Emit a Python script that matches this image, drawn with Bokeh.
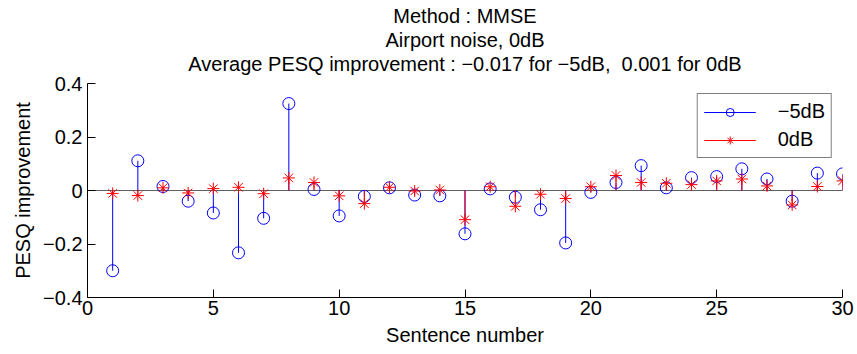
from bokeh.plotting import figure
from bokeh.models import (Range1d, FixedTicker, Span, Legend, LegendItem, Title,
                          ColumnDataSource)
from bokeh.embed import file_html
from bokeh.resources import INLINE

# ---- data ----
sentences = list(range(1, 31))
pesq_m5db = [-0.300, 0.111, 0.015, -0.040, -0.084, -0.233, -0.104, 0.325, 0.004, -0.095,
             -0.022, 0.010, -0.017, -0.020, -0.162, 0.006, -0.025, -0.072, -0.196, -0.007,
             0.030, 0.093, 0.010, 0.048, 0.052, 0.081, 0.043, -0.040, 0.065, 0.062]
pesq_0db = [-0.011, -0.019, 0.010, -0.009, 0.007, 0.012, -0.012, 0.047, 0.030, -0.020,
            -0.049, 0.012, -0.002, 0.002, -0.109, 0.014, -0.059, -0.014, -0.030, 0.014,
            0.056, 0.030, 0.027, 0.022, 0.036, 0.043, 0.017, -0.054, 0.015, 0.036]
series_labels = ["\u22125dB", "0dB"]
x_ticks = [0, 5, 10, 15, 20, 25, 30]
y_ticks = [-0.4, -0.2, 0, 0.2, 0.4]
y_tick_labels = ["\u22120.4", "\u22120.2", "0", "0.2", "0.4"]
title_lines = ["Method : MMSE",
               "Airport noise, 0dB",
               "Average PESQ improvement : \u22120.017 for \u22125dB,\u00a0 0.001 for 0dB"]

FONT = "Liberation Sans"
FS = "20px"
BLUE = "#0000ff"
RED = "#ff0000"

src = ColumnDataSource(dict(x=sentences, m5=pesq_m5db, z0=pesq_0db))

p = figure(width=857, height=354, output_backend="svg", toolbar_location=None,
           x_range=Range1d(0, 30), y_range=Range1d(-0.4, 0.4), title=None,
           min_border_left=87, min_border_right=15, min_border_top=83,
           min_border_bottom=57)
p.outline_line_color = None
p.grid.visible = False
p.background_fill_color = "white"
p.border_fill_color = "white"

# spacer between plot frame and the title block
p.add_layout(Title(text="\u00a0", text_font=FONT, text_font_size="7px",
                   text_line_height=1.0, standoff=0), "above")
# titles (added bottom-most first)
for t in reversed(title_lines):
    p.add_layout(Title(text=t, align="center", text_font=FONT, text_font_size=FS,
                       text_font_style="normal", text_color="black",
                       text_line_height=1.0, standoff=0, offset=0), "above")

baseline = Span(location=0, dimension="width", line_color="#606060", line_width=1,
                level="underlay")
p.add_layout(baseline)

s1 = p.segment(x0="x", y0=0, x1="x", y1="m5", source=src, line_color=BLUE, line_width=1)
c1 = p.scatter("x", "m5", source=src, marker="circle", size=12, fill_color=None,
               line_color=BLUE, line_width=1)
s2 = p.segment(x0="x", y0=0, x1="x", y1="z0", source=src, line_color=RED, line_width=1)
c2 = p.scatter("x", "z0", source=src, marker="asterisk", size=12,
               line_color=RED, line_width=1)

for ax in (p.xaxis[0], p.yaxis[0]):
    ax.major_tick_in = 8
    ax.major_tick_out = 0
    ax.minor_tick_line_color = None
    ax.axis_line_color = "black"
    ax.major_tick_line_color = "black"
    ax.major_label_text_font = FONT
    ax.major_label_text_font_size = FS
    ax.major_label_text_color = "black"
    ax.axis_label_text_font = FONT
    ax.axis_label_text_font_size = FS
    ax.axis_label_text_font_style = "normal"
    ax.axis_label_text_color = "black"

p.xaxis.ticker = FixedTicker(ticks=x_ticks)
p.yaxis.ticker = FixedTicker(ticks=y_ticks)
p.yaxis.major_label_overrides = {float(v): l for v, l in zip(y_ticks, y_tick_labels)}
p.xaxis.axis_label = "Sentence number"
p.yaxis.axis_label = "PESQ improvement"
p.xaxis.major_label_standoff = 3
p.yaxis.major_label_standoff = 5
p.xaxis.axis_label_standoff = 6
p.yaxis.axis_label_standoff = 6

legend = Legend(items=[LegendItem(label=series_labels[0], renderers=[s1, c1]),
                       LegendItem(label=series_labels[1], renderers=[s2, c2])],
                location="top_right", margin=10, padding=6, spacing=5,
                glyph_width=52, glyph_height=20, label_height=20,
                label_standoff=22, border_line_color="black", border_line_width=1,
                background_fill_color="white", background_fill_alpha=1,
                label_text_font=FONT, label_text_font_size=FS,
                label_text_color="black")
p.add_layout(legend)

open("out.html", "w").write(file_html(p, INLINE))
